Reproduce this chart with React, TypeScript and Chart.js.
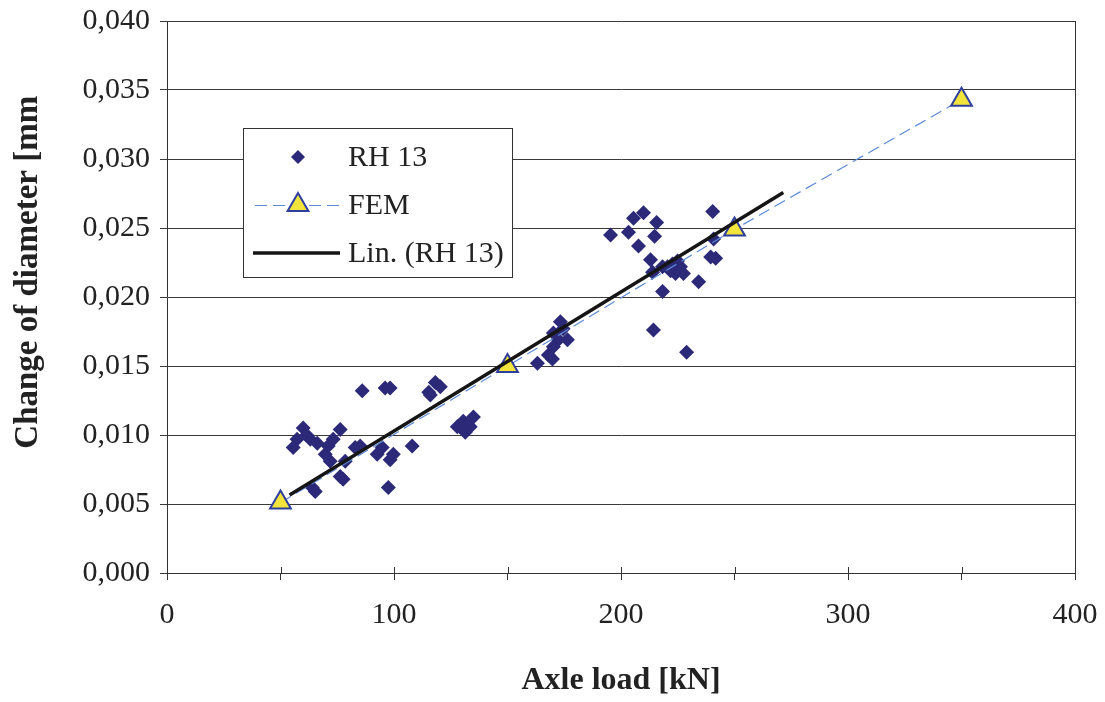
import React, { useEffect, useRef } from "react";
import { Chart, registerables } from "chart.js";

Chart.register(...registerables);

// RH 13 measurements: axle load [kN] and change of diameter [mm]
const rhX = [55.6, 57.3, 60.0, 61.5, 63.1, 66.2, 65.3, 64.0, 69.7, 71.9, 71.0, 73.2, 76.3, 78.5, 76.3, 77.6, 82.9, 85.1, 86.0, 96.1, 98.3, 94.8, 92.6, 99.7, 98.3, 108.0, 97.5,
  118.2, 116.0, 120.4, 115.3, 130.5, 135.0, 127.9, 131.4, 133.6,
  163.2, 168.0, 169.8, 170.2, 172.4, 176.4, 173.3, 170.2, 174.5,
  195.4, 203.3, 205.5, 209.9, 207.7, 215.7, 214.8, 213.0, 213.9, 218.3, 220.5, 222.7, 224.9, 226.2, 227.5, 224.0, 221.8, 218.3, 234.2, 240.4, 240.8, 239.5, 241.7, 214.3, 228.9];
const rhY = [0.0091, 0.0097, 0.0105, 0.0100, 0.0097, 0.0094, 0.0059, 0.0062, 0.0086, 0.0081, 0.0092, 0.0097, 0.0104, 0.0081, 0.0070, 0.0068, 0.0091, 0.0092, 0.0132, 0.0134, 0.0134, 0.0091, 0.0086, 0.0086, 0.0082, 0.0092, 0.0062,
  0.0138, 0.0129, 0.0135, 0.0131, 0.0110, 0.0113, 0.0106, 0.0102, 0.0106,
  0.0152, 0.0158, 0.0155, 0.0164, 0.0169, 0.0169, 0.0182, 0.0174, 0.0177,
  0.0245, 0.0247, 0.0257, 0.0261, 0.0237, 0.0254, 0.0244, 0.0227, 0.0218, 0.0222, 0.0222, 0.0224, 0.0226, 0.0222, 0.0217, 0.0217, 0.0219, 0.0204, 0.0211, 0.0262, 0.0242, 0.0229, 0.0228, 0.0176, 0.0160];

// FEM results
const femX = [50, 150, 250, 350];
const femY = [0.0051, 0.0150, 0.0249, 0.0343];

// Linear trend (RH 13), endpoints
const trendX = [54, 271.5];
const trendY = [0.00566, 0.02757];

const seriesNames = ["RH 13", "FEM", "Lin. (RH 13)"];
const xTitle = "Axle load [kN]";
const yTitle = "Change of diameter [mm";

const FONT = "'Liberation Serif', 'Times New Roman', serif";

const toPts = (xs: number[], ys: number[]) => xs.map((x, i) => ({ x, y: ys[i] }));

const noPad = (s: any) => {
  s.paddingLeft = 0;
  s.paddingRight = 0;
  s.paddingTop = 0;
  s.paddingBottom = 0;
};

const framePlugin = {
  id: "frame",
  afterDraw(chart: any) {
    const { ctx, chartArea } = chart;
    const xs = chart.scales.x;
    ctx.save();
    ctx.strokeStyle = "#333";
    ctx.lineWidth = 1;
    ctx.beginPath();
    ctx.moveTo(Math.round(chartArea.right) + 0.5, chartArea.top);
    ctx.lineTo(Math.round(chartArea.right) + 0.5, chartArea.bottom);
    ctx.stroke();
    // inner part of x tick marks
    ctx.beginPath();
    for (let v = 0; v <= 400; v += 50) {
      const px = Math.round(xs.getPixelForValue(v)) + 0.5;
      ctx.moveTo(px, chartArea.bottom - 6);
      ctx.lineTo(px, chartArea.bottom);
    }
    ctx.stroke();
    ctx.restore();
  },
};

const legendPlugin = {
  id: "boxLegend",
  afterDatasetsDraw(chart: any) {
    const { ctx } = chart;
    const ds = chart.data.datasets;
    const left = 243, top = 128, right = 512, bottom = 277;
    ctx.save();
    ctx.fillStyle = "#fff";
    ctx.fillRect(left, top, right - left, bottom - top);
    ctx.strokeStyle = "#333";
    ctx.lineWidth = 1;
    ctx.strokeRect(left + 0.5, top + 0.5, right - left, bottom - top);
    const rows = [157, 205, 253];
    const symX = 298;
    const textX = 348;
    // RH 13 diamond
    ctx.fillStyle = ds[0].backgroundColor;
    ctx.beginPath();
    const r0 = 7;
    ctx.moveTo(symX, rows[0] - r0);
    ctx.lineTo(symX + r0, rows[0]);
    ctx.lineTo(symX, rows[0] + r0);
    ctx.lineTo(symX - r0, rows[0]);
    ctx.closePath();
    ctx.fill();
    // FEM dashed line + triangle
    ctx.strokeStyle = ds[1].borderColor;
    ctx.lineWidth = ds[1].borderWidth;
    ctx.setLineDash(ds[1].borderDash);
    ctx.beginPath();
    ctx.moveTo(255, rows[1] + 0.5);
    ctx.lineTo(340, rows[1] + 0.5);
    ctx.stroke();
    ctx.setLineDash([]);
    const r1 = ds[1].pointRadius;
    ctx.beginPath();
    ctx.moveTo(symX, rows[1] - r1);
    ctx.lineTo(symX + r1 * Math.sin((2 * Math.PI) / 3), rows[1] + r1 / 2);
    ctx.lineTo(symX - r1 * Math.sin((2 * Math.PI) / 3), rows[1] + r1 / 2);
    ctx.closePath();
    ctx.fillStyle = ds[1].pointBackgroundColor;
    ctx.fill();
    ctx.strokeStyle = ds[1].pointBorderColor;
    ctx.lineWidth = ds[1].pointBorderWidth;
    ctx.stroke();
    // trend line
    ctx.strokeStyle = ds[2].borderColor;
    ctx.lineWidth = ds[2].borderWidth;
    ctx.beginPath();
    ctx.moveTo(253, rows[2]);
    ctx.lineTo(340, rows[2]);
    ctx.stroke();
    // labels
    ctx.fillStyle = "#222";
    ctx.font = `30px ${FONT}`;
    ctx.textBaseline = "middle";
    ctx.textAlign = "left";
    seriesNames.forEach((n, i) => ctx.fillText(n, textX, rows[i] + 1));
    ctx.restore();
  },
};

export default function App() {
  const ref = useRef<HTMLCanvasElement>(null);
  useEffect(() => {
    if (!ref.current) return;
    const chart = new Chart(ref.current, {
      type: "scatter",
      data: {
        datasets: [
          {
            label: seriesNames[0],
            data: toPts(rhX, rhY),
            backgroundColor: "#2c2a78",
            borderColor: "#2c2a78",
            pointStyle: "rectRot",
            pointRadius: 7.5,
            pointBorderWidth: 0,
            showLine: false,
            order: 3,
          } as any,
          {
            label: seriesNames[1],
            data: toPts(femX, femY),
            showLine: true,
            borderColor: "#5b8ad6",
            borderWidth: 1.2,
            borderDash: [12, 6],
            pointStyle: "triangle",
            pointRadius: 12,
            pointBackgroundColor: "#f2e43a",
            pointBorderColor: "#2e3f9e",
            pointBorderWidth: 2,
            order: 2,
          } as any,
          {
            label: seriesNames[2],
            data: toPts(trendX, trendY),
            showLine: true,
            borderColor: "#151515",
            borderWidth: 3.5,
            pointRadius: 0,
            order: 1,
          } as any,
        ],
      },
      options: {
        responsive: false,
        animation: false,
        devicePixelRatio: 1,
        layout: { padding: { top: 21, right: 30, left: 0, bottom: 0 } },
        plugins: { legend: { display: false }, tooltip: { enabled: false } },
        scales: {
          x: {
            type: "linear",
            min: 0,
            max: 400,
            afterFit: (s: any) => { s.height = 129; noPad(s); },
            ticks: {
              stepSize: 50,
              autoSkip: false,
              maxRotation: 0,
              padding: 17,
              color: "#222",
              font: { family: FONT, size: 30 },
              callback: (v: any) => (Number(v) % 100 === 0 ? String(v) : ""),
            },
            grid: { drawOnChartArea: false, drawTicks: true, tickLength: 7, color: "#333" },
            border: { color: "#333", width: 1 },
            title: {
              display: true,
              text: xTitle,
              color: "#222",
              font: { family: FONT, size: 32, weight: "bold" },
              padding: { top: 0, bottom: 2 },
            },
          },
          y: {
            type: "linear",
            min: 0,
            max: 0.04,
            afterFit: (s: any) => { s.width = 167; noPad(s); },
            ticks: {
              stepSize: 0.005,
              padding: 10,
              color: "#222",
              font: { family: FONT, size: 30 },
              callback: (v: any) => Number(v).toFixed(3).replace(".", ","),
            },
            grid: { color: "#3a3a3a", lineWidth: 1, tickLength: 7 },
            border: { color: "#333", width: 1 },
            title: {
              display: true,
              text: "      " + yTitle,
              color: "#222",
              font: { family: FONT, size: 33, weight: "bold" },
              padding: { top: 9, bottom: 0 },
            },
          },
        },
      },
      plugins: [framePlugin, legendPlugin],
    });
    return () => chart.destroy();
  }, []);
  return (
    <div style={{ position: "absolute", left: 0, top: 0, width: 1105, height: 702, background: "#fff" }}>
      <canvas ref={ref} width={1105} height={702} />
    </div>
  );
}
